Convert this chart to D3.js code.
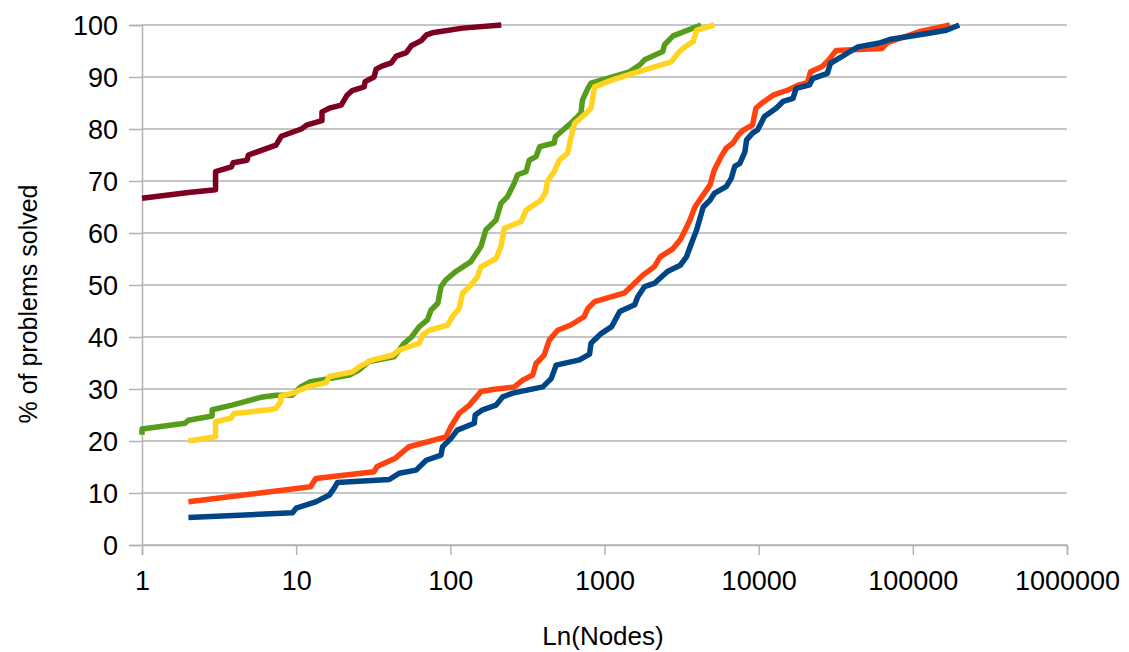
<!DOCTYPE html>
<html>
<head>
<meta charset="utf-8">
<script src="https://cdn.jsdelivr.net/npm/d3@7"></script>
<style>
  body { margin: 0; background: #fff; }
  text { font-family: "Liberation Sans", Arial, sans-serif; fill: #000; }
</style>
</head>
<body>
<svg id="chart" width="1129" height="652"></svg>
<script>
// tick labels
var xTicks = [1, 10, 100, 1000, 10000, 100000, 1000000];
var yTicks = [0, 10, 20, 30, 40, 50, 60, 70, 80, 90, 100];

// series: [nodes, % solved]
var maroonSeries = [[1,66.7],[2,67.8],[3,68.3],[3,71.8],[3.8,72.7],[3.9,73.5],[4.8,74],[4.9,75],[7.4,76.9],[8,78.6],[10.8,80],[11.8,80.8],[14.7,81.6],[14.7,83.3],[16.4,84],[19.6,84.6],[21.4,86.5],[23.1,87.4],[27.6,88.1],[28,89.1],[32,90],[33,91.5],[36,92.1],[41.4,92.7],[44.6,94],[51.8,94.7],[55.8,96],[64.8,97],[70,98.1],[76.4,98.5],[120,99.4],[214,100]];

var greenSeries = [[1,21.2],[1,22.3],[1.9,23.4],[2,24],[2.85,24.8],[2.85,26],[3.84,26.9],[5.9,28.4],[7.4,28.8],[9.4,28.8],[10.7,30.4],[12.4,31.4],[16.4,32],[22.2,32.7],[25.7,33.7],[29.8,35.3],[43.1,36.2],[45,36.9],[50.2,38.8],[56,40],[62.9,42],[71,43.3],[75,45.2],[83,46.5],[87,49.7],[93.6,51],[108.6,52.6],[136,54.5],[158,57.4],[170,60.6],[198,62.5],[213,65.7],[235,67],[260,69.6],[273,71.2],[310,71.8],[325,74],[360,74.7],[380,76.6],[472,77.3],[480,78.5],[538,79.8],[604,81.1],[703,83],[720,85.6],[780,87.8],[817,88.8],[1030,89.7],[1454,91],[1688,92.3],[1820,93.3],[2388,94.9],[2450,96.2],[2785,97.9],[4226,100]];

var yellowSeries = [[2,20],[3,20.8],[3,23.7],[3.77,24.4],[3.96,25.3],[6.67,26],[7.4,26.3],[7.95,27.6],[7.95,28.6],[9.47,29.2],[11.8,30.4],[15.6,31.2],[16.4,32.4],[23.2,33.3],[25.7,34.3],[31.3,35.6],[42.1,36.5],[46.6,37.5],[62.9,38.8],[66,40.4],[73,41.3],[96,42.3],[103,43.9],[114,45.5],[120,48.4],[136,50],[150,51.6],[158,53.5],[198,55.1],[213,57.4],[224,60.9],[288,62.2],[310,64.4],[387,66.3],[416,67.9],[425,69.9],[472,71.8],[508,74],[575,75.3],[604,78.2],[640,81.1],[758,83],[817,84],[863,88.1],[1113,89.4],[1526,90.7],[2710,92.9],[3000,94.6],[3322,95.8],[3763,96.8],[3962,99],[5152,100]];

var orangeSeries = [[2,8.3],[12.4,11.2],[13.4,12.8],[32,14.1],[33.5,15.1],[44,16.7],[54,18.9],[93.6,20.8],[101,22.8],[114,25.3],[133,26.9],[158,29.5],[188,29.9],[260,30.4],[295,31.7],[342,32.7],[360,34.9],[406,36.5],[438,39.4],[497,41.3],[604,42.3],[737,43.9],[780,45.5],[863,46.8],[1350,48.5],[1526,50],[1774,51.9],[2102,53.5],[2300,55.4],[2785,57],[3100,58.7],[3300,60.3],[3550,62.2],[3860,65],[4226,66.7],[4830,69.2],[5152,72.1],[5710,74.7],[6150,76.3],[6815,77.3],[7360,78.8],[7950,79.8],[9130,80.8],[9600,84],[10400,84.9],[12400,86.5],[15500,87.5],[18300,88.5],[20700,88.9],[21700,91],[25800,92],[28500,93.3],[31800,95.1],[63200,95.5],[68500,96.6],[110000,98.7],[174000,100]];

var blueSeries = [[2,5.3],[9.47,6.2],[10,7.1],[13.4,8.3],[16.4,9.6],[17.6,10.9],[18.5,12],[40.2,12.6],[46.6,13.8],[60,14.4],[69.8,16.3],[87,17.3],[89,18.9],[101,20.5],[111,22.1],[143,23.4],[145,25],[162,26],[198,26.9],[219,28.5],[254,29.2],[398,30.4],[451,32],[486,34.6],[688,35.6],[800,36.7],[817,38.8],[955,40.7],[1113,42],[1256,44.9],[1570,46.2],[1640,47.7],[1820,49.7],[2102,50.3],[2560,52.6],[3100,53.8],[3403,55.4],[3630,57.7],[3960,60.6],[4370,65],[4830,66.3],[5152,67.6],[6150,68.9],[6640,70.5],[6990,72.8],[7550,73.4],[8140,75.6],[8350,77.9],[9130,79.2],[9840,79.8],[10900,82.4],[13000,84],[14400,85.3],[16700,85.9],[17500,87.8],[21400,88.5],[22400,89.7],[27900,90.7],[29200,92.6],[34600,93.9],[39100,94.9],[44100,95.8],[62000,96.6],[70500,97.2],[127000,98.4],[165000,99],[193000,99.8],[200000,100]];

var seriesList = [
  { data: greenSeries, color: "#579d1c" },
  { data: yellowSeries, color: "#ffd320" },
  { data: orangeSeries, color: "#ff420e" },
  { data: blueSeries, color: "#004586" },
  { data: maroonSeries, color: "#7e0021" }
];

var svg = d3.select("#chart");
var plotLeft = 142, plotRight = 1067, plotTop = 25, plotBottom = 545;

var x = d3.scaleLog().domain([1, 1000000]).range([plotLeft, plotRight]);
var y = d3.scaleLinear().domain([0, 100]).range([plotBottom, plotTop]);

// gridlines
svg.append("g")
  .selectAll("line")
  .data(yTicks)
  .enter().append("line")
  .attr("x1", plotLeft).attr("x2", plotRight)
  .attr("y1", d => y(d)).attr("y2", d => y(d))
  .attr("stroke", "#b3b3b3").attr("stroke-width", 1.5);

// y axis
var yAxis = svg.append("g")
  .attr("transform", "translate(" + plotLeft + ",0)")
  .call(d3.axisLeft(y).tickValues(yTicks).tickSize(13).tickPadding(11));
yAxis.selectAll("line, path").attr("stroke", "#b3b3b3").attr("stroke-width", 1.5);
yAxis.selectAll("text").style("font-size", "27px").attr("dy", "0.36em");

// x axis
var xAxis = svg.append("g")
  .attr("transform", "translate(0," + plotBottom + ")")
  .call(d3.axisBottom(x).tickValues(xTicks).tickFormat(d3.format("d")).tickSize(10).tickPadding(16));
xAxis.selectAll("line, path").attr("stroke", "#b3b3b3").attr("stroke-width", 1.5);
xAxis.selectAll("text").style("font-size", "27px");

// lines
var line = d3.line().x(d => x(d[0])).y(d => y(d[1]));
svg.append("g")
  .selectAll("path")
  .data(seriesList)
  .enter().append("path")
  .attr("d", d => line(d.data))
  .attr("fill", "none")
  .attr("stroke", d => d.color)
  .attr("stroke-width", 5.5)
  .attr("stroke-linejoin", "round");

// axis titles
svg.append("text")
  .attr("x", 603).attr("y", 645)
  .attr("text-anchor", "middle")
  .style("font-size", "26px")
  .text("Ln(Nodes)");

svg.append("text")
  .attr("transform", "translate(37,304) rotate(-90)")
  .attr("text-anchor", "middle")
  .style("font-size", "25px")
  .text("% of problems solved");
</script>
</body>
</html>
